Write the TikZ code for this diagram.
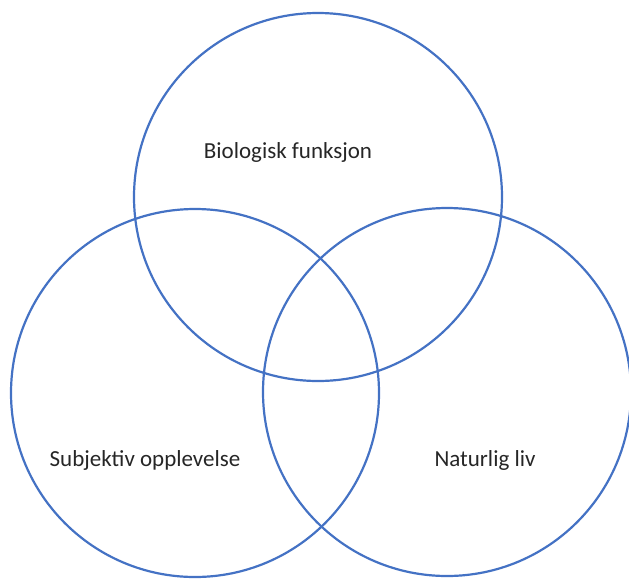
\documentclass[tikz,border=0pt]{standalone}
\usepackage{fontspec}
\setmainfont{Carlito}
\usepackage{xcolor}
\usepackage{tikz}
\usetikzlibrary{positioning}
\definecolor{vennblue}{HTML}{4472C4}
\tikzset{
  venncircle/.style={
    draw=vennblue, line width=2.2pt, circle, minimum size=368pt,
    inner sep=0pt
  },
  vennlabel/.style={
    font=\fontsize{23}{27}\selectfont, text=black!85, inner sep=0pt
  },
}

\begin{document}
\begin{tikzpicture}[x=1pt, y=-1pt]
  \useasboundingbox (0,0) rectangle (629,579);
  % Circles
  \node[venncircle] (bio) at (318,197) {};
  \node[venncircle] (subj) at (195,393) {};
  \node[venncircle] (nat) at (447,392) {};
  % Labels
  \node[vennlabel] (biolabel) at (288,152) {Biologisk funksjon};
  \node[vennlabel] (subjlabel) at (145,460) {Subjektiv opplevelse};
  \node[vennlabel] (natlabel) at (485,460) {Naturlig liv};
\end{tikzpicture}
\end{document}
